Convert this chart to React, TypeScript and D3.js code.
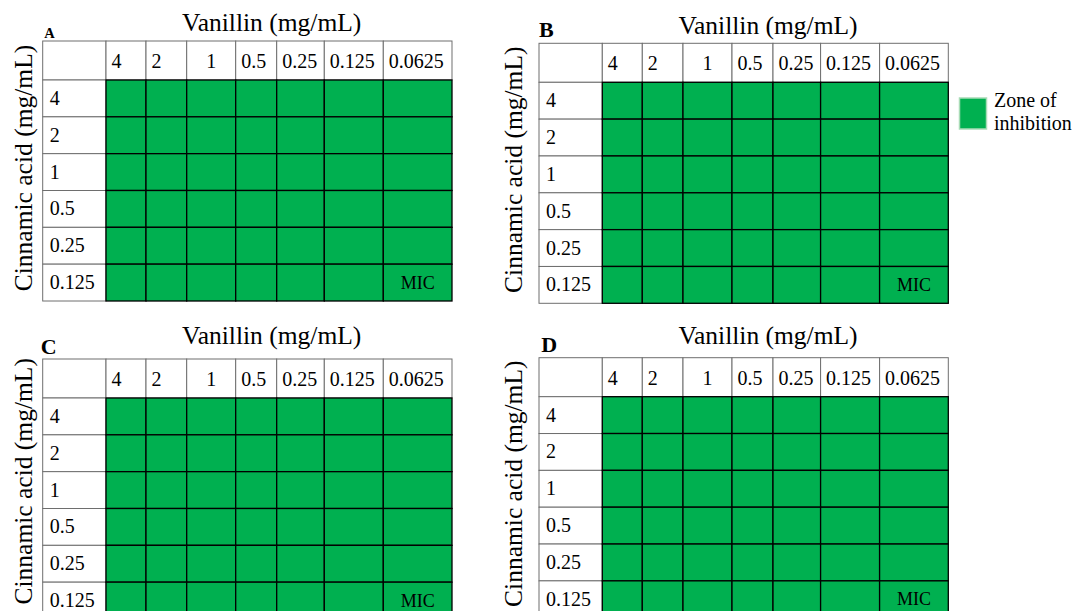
import React from "react";
import * as d3 from "d3";

// ---------- DATA ----------
const panelLetters = ["A", "B", "C", "D"];
const vanillinConc = ["4", "2", "1", "0.5", "0.25", "0.125", "0.0625"];
const cinnamicConc = ["4", "2", "1", "0.5", "0.25", "0.125"];

// 1 = zone of inhibition (green), 0 = growth
const inhibitionA = [
  [1, 1, 1, 1, 1, 1, 1],
  [1, 1, 1, 1, 1, 1, 1],
  [1, 1, 1, 1, 1, 1, 1],
  [1, 1, 1, 1, 1, 1, 1],
  [1, 1, 1, 1, 1, 1, 1],
  [1, 1, 1, 1, 1, 1, 1],
];
const inhibitionB = [
  [1, 1, 1, 1, 1, 1, 1],
  [1, 1, 1, 1, 1, 1, 1],
  [1, 1, 1, 1, 1, 1, 1],
  [1, 1, 1, 1, 1, 1, 1],
  [1, 1, 1, 1, 1, 1, 1],
  [1, 1, 1, 1, 1, 1, 1],
];
const inhibitionC = [
  [1, 1, 1, 1, 1, 1, 1],
  [1, 1, 1, 1, 1, 1, 1],
  [1, 1, 1, 1, 1, 1, 1],
  [1, 1, 1, 1, 1, 1, 1],
  [1, 1, 1, 1, 1, 1, 1],
  [1, 1, 1, 1, 1, 1, 1],
];
const inhibitionD = [
  [1, 1, 1, 1, 1, 1, 1],
  [1, 1, 1, 1, 1, 1, 1],
  [1, 1, 1, 1, 1, 1, 1],
  [1, 1, 1, 1, 1, 1, 1],
  [1, 1, 1, 1, 1, 1, 1],
  [1, 1, 1, 1, 1, 1, 1],
];
const micVanillin = ["0.0625", "0.0625", "0.0625", "0.0625"];
const micCinnamic = ["0.125", "0.125", "0.125", "0.125"];

const xTitle = "Vanillin (mg/mL)";
const yTitle = "Cinnamic acid (mg/mL)";
const legendLines = ["Zone of", "inhibition"];
const micLabel = "MIC";

// ---------- LAYOUT / STYLE ----------
const W = 1081;
const H = 611;
const GREEN = "#00B050";
const FONT = "'Liberation Serif', 'Times New Roman', Times, serif";
const COL_WIDTHS = [63.3, 40, 40.7, 49, 41, 47.6, 59, 68.7];
const HEADER_H = 39;
const BODY_H = 221;

const panelLayout = [
  { x: 42.7, y: 41, titleY: 30.7, letterX: 44.3, letterY: 37.7, letterSize: 14.5, yLabX: 31.5, yLabTop: 45 },
  { x: 539, y: 43.3, titleY: 34.3, letterX: 539, letterY: 37.3, letterSize: 22, yLabX: 522, yLabTop: 46.7 },
  { x: 42.7, y: 359, titleY: 344.3, letterX: 40.7, letterY: 354, letterSize: 22, yLabX: 31.5, yLabTop: 358.3 },
  { x: 539, y: 357.7, titleY: 344.3, letterX: 541.3, letterY: 351.7, letterSize: 22, yLabX: 522, yLabTop: 360.7 },
];
const inhibitions = [inhibitionA, inhibitionB, inhibitionC, inhibitionD];

// column edges (cumulative)
const colEdges = d3.cumsum([0, ...COL_WIDTHS]);
const xCol = d3
  .scaleOrdinal<string, number>()
  .domain(vanillinConc)
  .range(vanillinConc.map((_, i) => colEdges[i + 1]));
const colW = (v: string) => COL_WIDTHS[vanillinConc.indexOf(v) + 1];
const yRow = d3
  .scaleBand<string>()
  .domain(cinnamicConc)
  .range([HEADER_H, HEADER_H + BODY_H]);

function Panel({ idx }: { idx: number }) {
  const L = panelLayout[idx];
  const inh = inhibitions[idx];
  const rh = yRow.bandwidth();
  const yLabCenter = L.yLabTop + 123;
  return (
    <g>
      <text
        x={L.letterX}
        y={L.letterY}
        fontFamily={FONT}
        fontWeight="bold"
        fontSize={L.letterSize}
      >
        {panelLetters[idx]}
      </text>
      <text
        x={L.x + 229}
        y={L.titleY}
        fontFamily={FONT}
        fontSize={25.5}
        textAnchor="middle"
      >
        {xTitle}
      </text>
      <text
        transform={`translate(${L.yLabX},${yLabCenter}) rotate(-90)`}
        fontFamily={FONT}
        fontSize={25.5}
        textAnchor="middle"
      >
        {yTitle}
      </text>
      <g transform={`translate(${L.x},${L.y})`}>
        {/* header white cells */}
        <rect x={0} y={0} width={COL_WIDTHS[0]} height={HEADER_H} fill="#fff" stroke="#6e6e6e" strokeWidth={1} />
        {vanillinConc.map((v) => (
          <g key={"h" + v}>
            <rect x={xCol(v)} y={0} width={colW(v)} height={HEADER_H} fill="#fff" stroke="#6e6e6e" strokeWidth={1} />
            <text
              x={v === "1" ? xCol(v) + colW(v) / 2 : xCol(v) + 5.5}
              y={HEADER_H / 2 + 7.5}
              textAnchor={v === "1" ? "middle" : "start"}
              fontFamily={FONT}
              fontSize={20}
            >
              {v}
            </text>
          </g>
        ))}
        {/* row label cells */}
        {cinnamicConc.map((c) => (
          <g key={"r" + c}>
            <rect x={0} y={yRow(c)} width={COL_WIDTHS[0]} height={rh} fill="#fff" stroke="#6e6e6e" strokeWidth={1} />
            <text x={7} y={(yRow(c) as number) + rh / 2 + 6.5} fontFamily={FONT} fontSize={20}>
              {c}
            </text>
          </g>
        ))}
        {/* data cells */}
        {cinnamicConc.map((c, ri) =>
          vanillinConc.map((v, ci) => (
            <rect
              key={"c" + c + "_" + v}
              x={xCol(v)}
              y={yRow(c)}
              width={colW(v)}
              height={rh}
              fill={inh[ri][ci] ? GREEN : "#fff"}
              stroke="#000"
              strokeWidth={1.3}
            />
          ))
        )}
        <text
          x={xCol(micVanillin[idx]) + colW(micVanillin[idx]) / 2}
          y={(yRow(micCinnamic[idx]) as number) + rh / 2 + 6}
          textAnchor="middle"
          fontFamily={FONT}
          fontSize={18}
        >
          {micLabel}
        </text>
      </g>
    </g>
  );
}

export default function App() {
  return (
    <svg
      width={W}
      height={H}
      style={{ position: "absolute", left: 0, top: 0, background: "#fff" }}
    >
      <rect x={0} y={0} width={W} height={H} fill="#fff" />
      {panelLetters.map((_, i) => (
        <Panel key={i} idx={i} />
      ))}
      <rect x={959.5} y={98} width={27} height={31} fill={GREEN} stroke="#a8dcb6" strokeWidth={1.5} />
      {legendLines.map((t, i) => (
        <text key={t} x={994} y={107 + i * 23} fontFamily={FONT} fontSize={20}>
          {t}
        </text>
      ))}
    </svg>
  );
}
